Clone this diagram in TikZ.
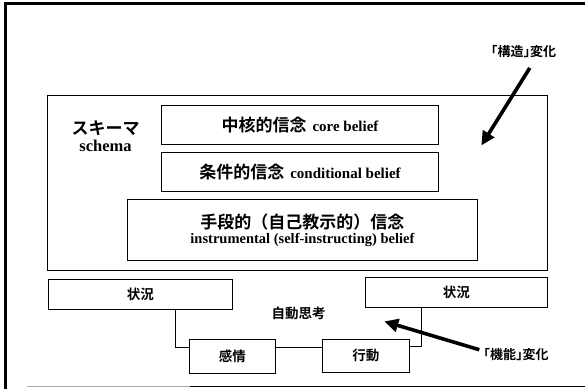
\documentclass[tikz,border=0pt]{standalone}
\usepackage{fontspec}
\setmainfont{Liberation Serif}
\newfontfamily\jp{Noto Sans CJK JP}[BoldFont={* Bold}]
\usetikzlibrary{arrows.meta}
\tikzset{
  box/.style={draw, line width=0.9pt, inner sep=0pt, align=center},
  bigarrow/.style={line width=3.6pt, -{Triangle[length=14pt,width=13pt]}},
  conn/.style={line width=0.8pt},
  jpm/.style={font=\jp\bfseries\fontsize{13.5}{15}\selectfont},
  jps/.style={font=\jp\bfseries\fontsize{13}{14}\selectfont},
}
\begin{document}
\begin{tikzpicture}[x=1pt,y=-1pt]
\useasboundingbox (0,0) rectangle (585,389);
\fill[white] (0,0) rectangle (585,389);
% outer frame
\draw[line width=3pt] (5.5,389) -- (5.5,3.5) -- (585,3.5);
\draw[line width=1.2pt, black!35] (27,386.5) -- (190,386.5);
\draw[line width=1.6pt] (190,386.5) -- (585,386.5);
% schema block
\node[box, minimum width=499.5pt, minimum height=174.5pt] (schema) at (297.55,182.75) {};
\node[align=center, inner sep=0pt] (schemalbl) at (105.6,136) {{\jp\bfseries\fontsize{17}{17}\selectfont スキーマ}\\[4pt]{\bfseries\fontsize{16.5}{16}\selectfont schema}};
\node[box, minimum width=277pt, minimum height=39pt] (core) at (300,124.7)
  {{\jp\bfseries\fontsize{17}{17}\selectfont 中核的信念}\hspace{6pt}{\bfseries\fontsize{15}{15}\selectfont core belief}};
\node[box, minimum width=277pt, minimum height=39.3pt] (cond) at (300,172.2)
  {{\jp\bfseries\fontsize{17}{17}\selectfont 条件的信念}\hspace{6pt}{\bfseries\fontsize{15}{15}\selectfont conditional belief}};
\node[box, minimum width=350.4pt, minimum height=61pt] (instr) at (302.4,230.25)
  {{\jp\bfseries\fontsize{17}{17}\selectfont 手段的（自己教示的）信念}\\[3pt]{\bfseries\fontsize{14.5}{14}\selectfont instrumental (self-instructing) belief}};
% automatic thought block
\node[box, jpm, minimum width=183.5pt, minimum height=30pt] (sitL) at (140.25,294) {状況};
\node[box, jpm, minimum width=181.7pt, minimum height=29.3pt] (sitR) at (456.45,292.35) {状況};
\node[jpm, inner sep=0pt] (auto) at (298.5,313) {自動思考};
\node[box, jpm, minimum width=86pt, minimum height=34pt] (kanjo) at (232.25,356) {感情};
\node[box, jpm, minimum width=87pt, minimum height=33.3pt] (kodo) at (365.85,355.7) {行動};
\draw[conn] ([xshift=35.15pt]sitL.south) |- ([yshift=8.7pt]kanjo.west);
\draw[conn] ([yshift=8.7pt]kanjo.east) -- ([yshift=8.4pt]kodo.west);
\draw[conn] ([yshift=9.7pt]kodo.east) -| ([xshift=-34.85pt]sitR.south);
% change labels and arrows
\node[jps, inner sep=0pt] (kozo) at (523.6,51.6) {｢構造｣変化};
\node[jps, inner sep=0pt] (kino) at (516,354.7) {｢機能｣変化};
\coordinate (t1) at (481.3,145.5);
\coordinate (t2) at (384.3,321.4);
\draw[bigarrow] ([xshift=6.2pt,yshift=-10pt]kozo.south) -- (t1);
\draw[bigarrow] ([xshift=-4pt,yshift=5pt]kino.west) -- (t2);
\end{tikzpicture}
\end{document}
